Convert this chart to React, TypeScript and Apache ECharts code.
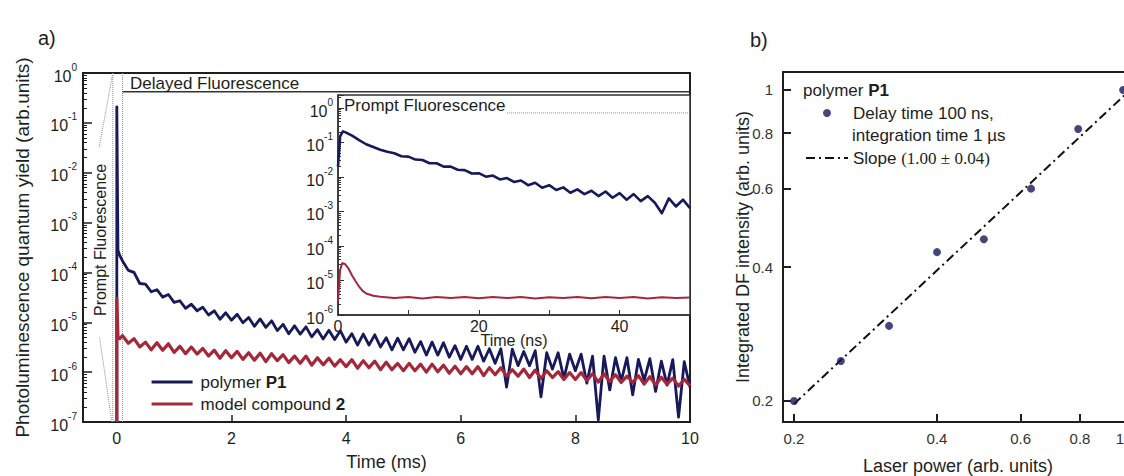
import { useEffect, useRef } from 'react';
import * as echarts from 'echarts';

const FONT = "'Liberation Sans', Arial, Helvetica, sans-serif";
const SERIF = "'Liberation Serif', 'Times New Roman', serif";
const BLUE = '#17195a';
const RED = '#a5283a';
const INK = '#1e1e1e';

// ---------- panel a) main decay, time in ms ----------
const spikeTimesMs = [0, 0, 0.02, 0.05];
const polymerSpikeYield = [1e-7, 0.21, 2.8e-4, 2.2e-4];
const modelSpikeYield = [1e-7, 3.0e-5, 5.1e-6, 4.7e-6];

const mainTimesMs = [
  0.1, 0.2, 0.3, 0.4, 0.5, 0.6, 0.7, 0.8, 0.9, 1.0,
  1.1, 1.2, 1.3, 1.4, 1.5, 1.6, 1.7, 1.8, 1.9, 2.0,
  2.1, 2.2, 2.3, 2.4, 2.5, 2.6, 2.7, 2.8, 2.9, 3.0,
  3.1, 3.2, 3.3, 3.4, 3.5, 3.6, 3.7, 3.8, 3.9, 4.0,
  4.1, 4.2, 4.3, 4.4, 4.5, 4.6, 4.7, 4.8, 4.9, 5.0,
  5.1, 5.2, 5.3, 5.4, 5.5, 5.6, 5.7, 5.8, 5.9, 6.0,
  6.1, 6.2, 6.3, 6.4, 6.5, 6.6, 6.7, 6.8, 6.9, 7.0,
  7.1, 7.2, 7.3, 7.4, 7.5, 7.6, 7.7, 7.8, 7.9, 8.0,
  8.1, 8.2, 8.3, 8.4, 8.5, 8.6, 8.7, 8.8, 8.9, 9.0,
  9.1, 9.2, 9.3, 9.4, 9.5, 9.6, 9.7, 9.8, 9.9, 10.0,
];
const polymerMainYield = [
  1.7e-4, 1.1e-4, 1.0e-4, 6.0e-5, 5.8e-5, 4.1e-5, 4.5e-5, 3.2e-5, 3.6e-5, 2.5e-5,
  2.7e-5, 1.9e-5, 2.3e-5, 1.7e-5, 2.0e-5, 1.4e-5, 1.7e-5, 1.15e-5, 1.55e-5, 1.1e-5,
  1.45e-5, 9.8e-6, 1.25e-5, 8.3e-6, 1.17e-5, 7.9e-6, 1.07e-5, 6.8e-6, 9.1e-6, 5.9e-6,
  8.5e-6, 5.8e-6, 8.1e-6, 5.1e-6, 7.1e-6, 4.6e-6, 6.9e-6, 4.5e-6, 6.8e-6, 4.0e-6,
  5.9e-6, 3.5e-6, 5.8e-6, 3.5e-6, 5.6e-6, 3.2e-6, 4.9e-6, 2.8e-6, 4.8e-6, 2.8e-6,
  4.7e-6, 2.5e-6, 4.1e-6, 2.2e-6, 4.0e-6, 2.2e-6, 3.9e-6, 2.0e-6, 3.4e-6, 1.8e-6,
  3.3e-6, 1.8e-6, 3.3e-6, 1.66e-6, 2.95e-6, 1.5e-6, 2.95e-6, 5.0e-7, 2.9e-6, 1.35e-6,
  2.6e-6, 1.35e-6, 2.7e-6, 3.2e-7, 2.45e-6, 1.15e-6, 2.45e-6, 7.4e-7, 2.3e-6, 1.07e-6,
  2.3e-6, 6.0e-7, 2.1e-6, 1.1e-7, 2.1e-6, 4.4e-7, 1.95e-6, 6.6e-7, 1.95e-6, 3.5e-7,
  1.8e-6, 6.8e-7, 1.86e-6, 4.1e-7, 1.66e-6, 5.5e-7, 1.78e-6, 1.26e-7, 1.62e-6, 5.0e-7,
];
const modelMainYield = [
  5.4e-6, 3.8e-6, 4.7e-6, 3.2e-6, 4.0e-6, 2.8e-6, 3.9e-6, 2.75e-6, 3.7e-6, 2.5e-6,
  3.3e-6, 2.35e-6, 3.2e-6, 2.3e-6, 3.0e-6, 2.1e-6, 2.75e-6, 1.9e-6, 2.7e-6, 1.95e-6,
  2.6e-6, 1.8e-6, 2.45e-6, 1.74e-6, 2.4e-6, 1.62e-6, 2.35e-6, 1.7e-6, 2.24e-6, 1.55e-6,
  2.1e-6, 1.5e-6, 2.1e-6, 1.38e-6, 1.95e-6, 1.4e-6, 1.9e-6, 1.32e-6, 1.78e-6, 1.29e-6,
  1.78e-6, 1.2e-6, 1.7e-6, 1.23e-6, 1.66e-6, 1.12e-6, 1.58e-6, 1.12e-6, 1.5e-6, 1.07e-6,
  1.5e-6, 1.07e-6, 1.45e-6, 1.0e-6, 1.45e-6, 1.02e-6, 1.38e-6, 9.5e-7, 1.32e-6, 9.3e-7,
  1.29e-6, 9.3e-7, 1.29e-6, 8.5e-7, 1.23e-6, 8.9e-7, 1.23e-6, 8.3e-7, 1.12e-6, 8.3e-7,
  1.15e-6, 7.8e-7, 1.1e-6, 7.4e-7, 1.07e-6, 7.8e-7, 1.02e-6, 7.1e-7, 9.8e-7, 7.1e-7,
  9.8e-7, 6.8e-7, 9.3e-7, 6.3e-7, 9.3e-7, 6.5e-7, 8.9e-7, 6.2e-7, 8.3e-7, 6.2e-7,
  8.5e-7, 5.75e-7, 8.1e-7, 5.5e-7, 7.9e-7, 5.75e-7, 7.6e-7, 5.25e-7, 7.2e-7, 5.25e-7,
];
const mainXTicks = [0, 2, 4, 6, 8, 10];

// ---------- inset, time in ns ----------
const insetTimesP1Ns = [
  0, 0.3, 0.7, 1, 2, 3, 4, 5, 6, 7, 8, 9, 10, 11, 12, 13, 14, 15, 16, 17, 18, 19, 20,
  21, 22, 23, 24, 25, 26, 27, 28, 29, 30, 31, 32, 33, 34, 35, 36, 37, 38, 39, 40,
  41, 42, 43, 44, 45, 46, 47, 48, 49, 50,
];
const insetP1Yield = [
  0.02, 0.15, 0.21, 0.2, 0.158, 0.117, 0.089, 0.074, 0.062, 0.054, 0.049, 0.04, 0.039,
  0.032, 0.031, 0.025, 0.025, 0.02, 0.02, 0.0162, 0.0158, 0.0126, 0.0129,
  0.0102, 0.011, 0.0085, 0.0093, 0.0072, 0.0079, 0.0058, 0.0068, 0.0049, 0.0058,
  0.0042, 0.005, 0.0035, 0.0044, 0.0032, 0.004, 0.0028, 0.0038, 0.0025, 0.0034,
  0.0022, 0.0032, 0.002, 0.0028, 0.0018, 0.00089, 0.0024, 0.0014, 0.0022, 0.00126,
];
const insetTimesM2Ns = [
  0, 0.3, 0.6, 1, 1.5, 2, 2.5, 3, 3.5, 4, 5, 6,
  8, 10, 12, 14, 16, 18, 20, 22, 24, 26, 28, 30, 32, 34, 36, 38, 40, 42, 44, 46, 48, 50,
];
const insetM2Yield = [
  2.5e-6, 2.0e-5, 3.2e-5, 3.0e-5, 2.2e-5, 1.4e-5, 9.5e-6, 6.6e-6, 5.0e-6, 4.2e-6, 3.6e-6, 3.4e-6,
  3.1e-6, 3.3e-6, 3.0e-6, 3.3e-6, 3.1e-6, 3.35e-6, 3.05e-6, 3.3e-6, 3.1e-6, 3.3e-6, 3.0e-6,
  3.25e-6, 3.1e-6, 3.35e-6, 3.05e-6, 3.3e-6, 3.1e-6, 3.3e-6, 3.0e-6, 3.25e-6, 3.1e-6, 3.2e-6,
];
const insetXLabels = [0, 20, 40];
const insetXTicks = [0, 10, 20, 30, 40];
const insetPromptLevel = 0.72;

// ---------- panel b) ----------
const laserPower = [0.2, 0.251, 0.317, 0.4, 0.502, 0.631, 0.793, 0.986];
const dfIntensity = [0.2, 0.246, 0.295, 0.432, 0.462, 0.6, 0.817, 1.0];
const fitPower = [0.2, 1.0];
const fitIntensity = [0.197, 0.98];
const panelBTicks = [0.2, 0.4, 0.6, 0.8, 1];

// annotation guides (data coordinates of panel a)
const promptGuideMs = -0.07;
const delayedStartMs = 0.1;
const delayedBracketLevel = 0.42;

const lg = (v: number) => Math.log10(v);
const pairs = (xs: number[], ys: number[]) => xs.map((x, i) => [x, lg(ys[i])]);

function minorLogTicks(from: number, to: number, maxLog: number) {
  const out: number[] = [];
  for (let n = from; n <= to; n++) {
    for (let k = 2; k < 10; k++) {
      const v = n + Math.log10(k);
      if (v < maxLog) out.push(v);
    }
  }
  return out;
}

const supLabel = (size: number) => ({
  formatter: (v: number) => (Math.abs(v - Math.round(v)) < 1e-6 ? `{b|10}{s|${Math.round(v)}}` : ''),
  rich: {
    b: { fontSize: size, fontFamily: FONT, color: INK, lineHeight: 22, verticalAlign: 'bottom' },
    s: { fontSize: Math.round(size * 0.62), fontFamily: FONT, color: INK, lineHeight: 10, verticalAlign: 'top' },
  },
});

const linearLabel = (v: number) => {
  const p = Math.pow(10, v);
  return Math.abs(p - 1) < 0.01 ? '{e|1}' : p.toFixed(1);
};

const thickLine = { show: true, onZero: false, lineStyle: { color: INK, width: 2 } };

function buildOption(): any {
  const mainPolymer = [...pairs(spikeTimesMs, polymerSpikeYield), ...pairs(mainTimesMs, polymerMainYield)];
  const mainModel = [...pairs(spikeTimesMs, modelSpikeYield), ...pairs(mainTimesMs, modelMainYield)];
  const dotted = { color: '#8a8a8a', width: 1, type: 'dotted' };
  const deco = (data: number[][], lineStyle: any) => ({
    type: 'line', xAxisIndex: 0, yAxisIndex: 0, data, symbol: 'none', silent: true,
    lineStyle, z: 1,
  });
  const insetLogMax = 0.377;
  const bLabelStyle = { fontSize: 15, color: '#333', fontFamily: FONT };

  return {
    animation: false,
    backgroundColor: '#ffffff',
    textStyle: { fontFamily: FONT },
    grid: [
      { left: 83, top: 73, width: 607, height: 349, show: true, borderColor: INK, borderWidth: 2, backgroundColor: 'transparent', outerBoundsMode: 'none', containLabel: false },
      { left: 338, top: 95, width: 352, height: 220, show: true, borderColor: '#333', borderWidth: 1.5, backgroundColor: '#ffffff', outerBoundsMode: 'none', containLabel: false },
      { left: 783, top: 72, width: 350, height: 350, show: true, borderColor: INK, borderWidth: 2, backgroundColor: 'transparent', outerBoundsMode: 'none', containLabel: false },
    ],
    xAxis: [
      {
        gridIndex: 0, type: 'value', min: -0.59, max: 10,
        axisLine: thickLine,
        axisTick: { show: true, inside: true, length: 7, customValues: mainXTicks, lineStyle: { color: INK, width: 1.5 } },
        axisLabel: { show: true, customValues: mainXTicks, margin: 8, fontSize: 16, color: INK, fontFamily: FONT },
        splitLine: { show: false },
        name: 'Time (ms)', nameLocation: 'middle', nameGap: 31, nameMoveOverlap: false,
        nameTextStyle: { fontSize: 18, color: INK, fontFamily: FONT },
      },
      {
        gridIndex: 1, type: 'value', min: 0, max: 50,
        axisLine: { show: true, onZero: false, lineStyle: { color: '#333', width: 1.5 } },
        axisTick: { show: true, inside: true, length: 5, customValues: insetXTicks, lineStyle: { color: '#333', width: 1 } },
        axisLabel: { show: true, customValues: insetXLabels, margin: 3, fontSize: 16, color: INK, fontFamily: FONT },
        splitLine: { show: false },
        name: 'Time (ns)', nameLocation: 'middle', nameGap: 17, nameMoveOverlap: false,
        nameTextStyle: { fontSize: 16, color: INK, fontFamily: FONT },
      },
      {
        gridIndex: 2, type: 'value', min: -0.7222, max: 0.0147,
        axisLine: thickLine,
        axisTick: { show: true, inside: true, length: 8, customValues: panelBTicks.map(lg), lineStyle: { color: INK, width: 2 } },
        axisLabel: {
          show: true, customValues: panelBTicks.map(lg), margin: 9, ...bLabelStyle,
          formatter: linearLabel,
          rich: { e: { ...bLabelStyle, padding: [0, 12, 0, 0] } },
        },
        splitLine: { show: false },
        name: 'Laser power (arb. units)', nameLocation: 'middle', nameGap: 35, nameMoveOverlap: false,
        nameTextStyle: { fontSize: 18, color: INK, fontFamily: FONT },
      },
    ],
    yAxis: [
      {
        gridIndex: 0, type: 'value', min: -7, max: 0, interval: 1, position: 'left',
        axisLine: thickLine,
        axisTick: { show: true, inside: true, length: 9, lineStyle: { color: INK, width: 1.5 } },
        axisLabel: { show: true, margin: 6, ...supLabel(16) },
        splitLine: { show: false },
        name: 'Photoluminescence quantum yield (arb.units)', nameLocation: 'middle', nameGap: 51, nameMoveOverlap: false,
        nameTextStyle: { fontSize: 19, color: INK, fontFamily: FONT },
      },
      {
        gridIndex: 0, type: 'value', min: -7, max: 0, position: 'left', offset: 0,
        axisLine: { show: false, onZero: false },
        axisTick: { show: true, inside: true, length: 4, customValues: minorLogTicks(-7, -1, 0), lineStyle: { color: INK, width: 1 } },
        axisLabel: { show: false },
        splitLine: { show: false },
      },
      {
        gridIndex: 1, type: 'value', min: -6, max: insetLogMax, interval: 1, position: 'left',
        axisLine: { show: true, onZero: false, lineStyle: { color: '#333', width: 1.5 } },
        axisTick: { show: true, inside: true, length: 6, lineStyle: { color: '#333', width: 1 } },
        axisLabel: { show: true, margin: 5, ...supLabel(16) },
        splitLine: { show: false },
      },
      {
        gridIndex: 1, type: 'value', min: -6, max: insetLogMax, position: 'left', offset: 0,
        axisLine: { show: false, onZero: false },
        axisTick: { show: true, inside: true, length: 3, customValues: minorLogTicks(-6, 0, insetLogMax), lineStyle: { color: '#333', width: 1 } },
        axisLabel: { show: false },
        splitLine: { show: false },
      },
      {
        gridIndex: 2, type: 'value', min: -0.7462, max: 0.0403, position: 'left',
        axisLine: thickLine,
        axisTick: { show: true, inside: true, length: 8, customValues: panelBTicks.map(lg), lineStyle: { color: INK, width: 2 } },
        axisLabel: {
          show: true, customValues: panelBTicks.map(lg), margin: 10, ...bLabelStyle,
          formatter: (v: number) => { const p = Math.pow(10, v); return Math.abs(p - 1) < 0.01 ? '1' : p.toFixed(1); },
        },
        splitLine: { show: false },
        name: 'Integrated DF intensity (arb. units)', nameLocation: 'middle', nameGap: 31, nameMoveOverlap: false,
        nameTextStyle: { fontSize: 18, color: INK, fontFamily: FONT },
      },
    ],
    legend: [
      {
        show: true, orient: 'vertical', left: 150, top: 372, padding: 0, itemGap: 2,
        itemWidth: 41, itemHeight: 14, selectedMode: false,
        data: ['polymer P1', 'model compound 2'],
        lineStyle: { width: 3.2 },
        itemStyle: { opacity: 0 },
        formatter: (n: string) => (n === 'polymer P1' ? 'polymer {b|P1}' : 'model compound {b|2}'),
        textStyle: {
          fontSize: 17, color: INK, fontFamily: FONT, lineHeight: 20, padding: [0, 0, 0, 3],
          rich: { b: { fontSize: 17, fontWeight: 'bold', color: INK, fontFamily: FONT, lineHeight: 20 } },
        },
      },
      {
        show: true, orient: 'vertical', left: 805, top: 103, padding: 0, itemGap: 25,
        itemWidth: 42, itemHeight: 8, selectedMode: false,
        data: [
          { name: 'Delay time 100 ns,', icon: 'circle' },
          { name: 'Slope', itemStyle: { opacity: 0 } },
        ],
        formatter: (n: string) => (n === 'Slope' ? 'Slope {s|(1.00 ± 0.04)}' : n),
        textStyle: {
          fontSize: 17, color: INK, fontFamily: FONT, lineHeight: 20,
          rich: { s: { fontSize: 17, color: INK, fontFamily: SERIF, lineHeight: 20 } },
        },
      },
    ],
    graphic: [
      { type: 'text', x: 38, y: 38, z: 100, style: { text: 'a)', fontSize: 20, fontFamily: FONT, fill: INK, textVerticalAlign: 'middle', verticalAlign: 'middle' } },
      { type: 'text', x: 750, y: 40, z: 100, style: { text: 'b)', fontSize: 20, fontFamily: FONT, fill: INK, textVerticalAlign: 'middle', verticalAlign: 'middle' } },
      { type: 'text', x: 130, y: 83, z: 100, style: { text: 'Delayed Fluorescence', fontSize: 17, fontFamily: FONT, fill: INK, textVerticalAlign: 'middle', verticalAlign: 'middle' } },
      { type: 'text', x: 344, y: 105, z: 100, style: { text: 'Prompt Fluorescence', fontSize: 17, fontFamily: FONT, fill: INK, textVerticalAlign: 'middle', verticalAlign: 'middle' } },
      { type: 'text', x: 100, y: 240, z: 100, rotation: Math.PI / 2, style: { text: 'Prompt Fluorescence', fontSize: 16, fontFamily: FONT, fill: INK, textAlign: 'center', align: 'center', textVerticalAlign: 'middle', verticalAlign: 'middle' } },
      {
        type: 'text', x: 803, y: 90, z: 100,
        style: {
          text: 'polymer {b|P1}', fontSize: 17, fontFamily: FONT, fill: INK, textVerticalAlign: 'middle', verticalAlign: 'middle',
          rich: { b: { fontSize: 17, fontWeight: 'bold', fontFamily: FONT, fill: INK, color: INK } },
        },
      },
      { type: 'text', x: 852, y: 135, z: 100, style: { text: 'integration time 1 µs', fontSize: 17, fontFamily: FONT, fill: INK, textVerticalAlign: 'middle', verticalAlign: 'middle' } },
    ],
    series: [
      deco([[promptGuideMs, -7], [promptGuideMs, 0]], dotted),
      deco([[delayedStartMs, -7], [delayedStartMs, 0]], dotted),
      deco([[promptGuideMs, 0], [-0.31, -1.5]], dotted),
      deco([[-0.3, -5.31], [-0.087, -7]], dotted),
      deco([[delayedStartMs, lg(delayedBracketLevel)], [10, lg(delayedBracketLevel)]], { color: '#333', width: 1.5 }),
      {
        name: 'polymer P1', type: 'line', xAxisIndex: 0, yAxisIndex: 0, data: mainPolymer,
        symbol: 'none', lineStyle: { color: BLUE, width: 2.8, join: 'round' }, itemStyle: { color: BLUE }, z: 3,
      },
      {
        name: 'model compound 2', type: 'line', xAxisIndex: 0, yAxisIndex: 0, data: mainModel,
        symbol: 'none', lineStyle: { color: RED, width: 3.2, join: 'round' }, itemStyle: { color: RED }, z: 4,
      },
      {
        name: 'inset guide', type: 'line', xAxisIndex: 1, yAxisIndex: 2, symbol: 'none', silent: true,
        data: [[24, lg(insetPromptLevel)], [50, lg(insetPromptLevel)]], lineStyle: dotted, z: 5,
      },
      {
        name: 'polymer P1 (ns)', type: 'line', xAxisIndex: 1, yAxisIndex: 2, data: pairs(insetTimesP1Ns, insetP1Yield),
        symbol: 'none', lineStyle: { color: BLUE, width: 2.6, join: 'round' }, z: 5,
      },
      {
        name: 'model compound 2 (ns)', type: 'line', xAxisIndex: 1, yAxisIndex: 2, data: pairs(insetTimesM2Ns, insetM2Yield),
        symbol: 'none', lineStyle: { color: RED, width: 2, join: 'round' }, z: 5,
      },
      {
        name: 'Delay time 100 ns,', type: 'scatter', xAxisIndex: 2, yAxisIndex: 4,
        data: laserPower.map((p, i) => [lg(p), lg(dfIntensity[i])]),
        symbol: 'circle', symbolSize: 8, itemStyle: { color: BLUE }, z: 4,
      },
      {
        name: 'Slope', type: 'line', xAxisIndex: 2, yAxisIndex: 4,
        data: fitPower.map((p, i) => [lg(p), lg(fitIntensity[i])]),
        symbol: 'none', lineStyle: { color: '#111', width: 2, type: [9, 4, 2, 4] }, itemStyle: { color: '#111' }, z: 3,
      },
    ],
  };
}

export default function App() {
  const ref = useRef<HTMLDivElement>(null);
  useEffect(() => {
    if (!ref.current) return;
    const chart = echarts.init(ref.current, null, { renderer: 'svg' });
    chart.setOption(buildOption());
    return () => chart.dispose();
  }, []);
  return (
    <div
      ref={ref}
      style={{ position: 'absolute', left: 0, top: 0, width: 1124, height: 476, background: '#fff', overflow: 'hidden' }}
    />
  );
}
